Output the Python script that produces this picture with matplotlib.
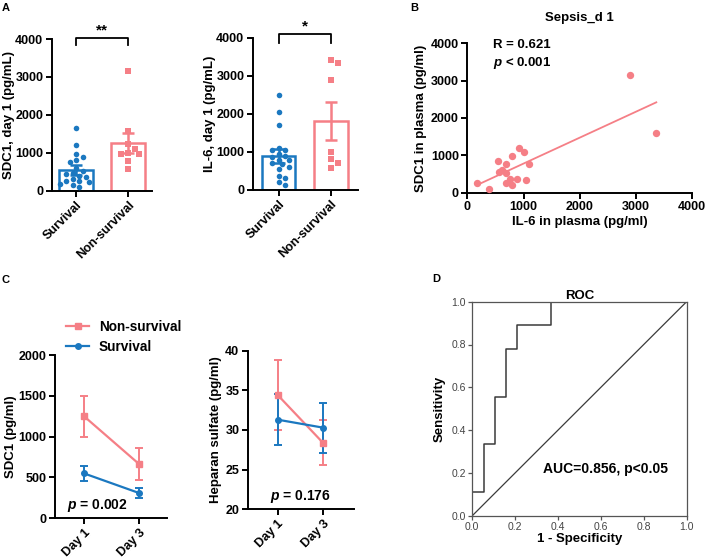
import numpy as np
import matplotlib
matplotlib.use('Agg')
import matplotlib.pyplot as plt
from matplotlib.lines import Line2D

plt.rcParams['font.family'] = ['Liberation Sans', 'DejaVu Sans']
plt.rcParams['font.weight'] = 'bold'
plt.rcParams['mathtext.fontset'] = 'custom'
plt.rcParams['mathtext.it'] = 'Liberation Sans:italic:bold'
plt.rcParams['mathtext.rm'] = 'Liberation Sans:bold'
plt.rcParams['mathtext.bf'] = 'Liberation Sans:bold'

BLUE = '#1b78c0'
PINK = '#f57f86'

# ---------------- data ----------------
groups = ['Survival', 'Non-survival']
sdc1_survival = [1650, 1200, 980, 900, 820, 760, 600, 520, 470, 430, 400, 360,
                 300, 260, 250, 220, 180, 150, 90]
sdc1_nonsurvival = [3150, 1570, 1220, 1100, 1000, 970, 960, 790, 570]
sdc1_bar_mean = [545, 1250]
sdc1_bar_sem = [130, 262]

il6_survival = [2500, 2060, 1700, 1100, 1050, 1050, 950, 900, 880, 800, 780,
                700, 680, 600, 550, 380, 310, 200, 140]
il6_nonsurvival = [3430, 3350, 2890, 1010, 810, 700, 590]
il6_bar_mean = [895, 1820]
il6_bar_sem = [180, 500]

corr_il6 = [178, 386, 546, 688, 789, 925, 1014, 1102, 560, 620, 688, 759, 688,
            800, 878, 1044, 2890, 3360]
corr_sdc1 = [268, 99, 849, 777, 983, 1206, 1099, 760, 560, 600, 519, 358, 251,
             206, 367, 340, 3150, 1590]

days = ['Day 1', 'Day 3']
sdc1_ns_mean = [1250, 665]
sdc1_ns_sem = [250, 195]
sdc1_s_mean = [550, 310]
sdc1_s_sem = [88, 65]
hs_ns_mean = [34.4, 28.4]
hs_ns_sem = [4.45, 2.8]
hs_s_mean = [31.3, 30.3]
hs_s_sem = [3.2, 3.15]

roc_fpr = [0, 0, 0.053, 0.053, 0.105, 0.105, 0.158, 0.158, 0.21, 0.21,
           0.368, 0.368, 1.0]
roc_tpr = [0, 0.111, 0.111, 0.333, 0.333, 0.556, 0.556, 0.778, 0.778, 0.889,
           0.889, 1.0, 1.0]

W, H = 706, 560
fig = plt.figure(figsize=(W / 100, H / 100), dpi=100)


def ax_px(x0, y0, x1, y1):
    return fig.add_axes([x0 / W, 1 - y1 / H, (x1 - x0) / W, (y1 - y0) / H])


TICK_FS = 9
LAB_FS = 9.5


def style(ax):
    for s in ['top', 'right']:
        ax.spines[s].set_visible(False)
    for s in ['left', 'bottom']:
        ax.spines[s].set_linewidth(1.4)
    ax.tick_params(width=1.4, length=4, labelsize=TICK_FS, pad=2)
    for lab in ax.get_xticklabels() + ax.get_yticklabels():
        lab.set_fontweight('bold')


def swarm_offsets(vals, ppu_y, ppu_x, diam):
    vals = np.asarray(vals, float)
    order = np.argsort(vals)[::-1]
    placed = []
    offs = np.zeros(len(vals))
    step = diam * 0.6
    for i in order:
        y = vals[i] * ppu_y
        for k in range(60):
            cands = [0.0] if k == 0 else [k * step, -k * step]
            ok_x = None
            for c in cands:
                if all((c - px) ** 2 + (y - py) ** 2 >= diam ** 2 for px, py in placed):
                    ok_x = c
                    break
            if ok_x is not None:
                placed.append((ok_x, y))
                offs[i] = ok_x / ppu_x
                break
    return offs


def bar_panel(ax, surv, nons, means, sems, ylabel, xlim, ppu_y, stars, bracket_y):
    x = np.arange(2)
    cols = [BLUE, PINK]
    ax.bar(x, means, width=0.64, facecolor='white', edgecolor=cols, linewidth=1.8, zorder=2)
    for i in range(2):
        ax.errorbar(x[i], means[i], yerr=sems[i], color=cols[i], capsize=4.5,
                    elinewidth=1.8, capthick=1.8, zorder=3)
    o1 = swarm_offsets(surv, ppu_y, 52, 5.4)
    ax.scatter(x[0] + o1, surv, s=16, marker='o', color=BLUE, zorder=4, linewidths=0)
    o2 = swarm_offsets(nons, ppu_y, 52, 5.8)
    ax.scatter(x[1] + o2, nons, s=17, marker='s', color=PINK, zorder=4, linewidths=0)
    ax.set_xlim(*xlim)
    ax.set_ylim(0, 4000)
    ax.set_yticks([0, 1000, 2000, 3000, 4000])
    ax.set_xticks(x)
    ax.set_xticklabels(groups, rotation=45, ha='right', rotation_mode='anchor')
    ax.set_ylabel(ylabel, fontsize=LAB_FS, fontweight='bold', labelpad=0.5)
    style(ax)
    by, leg = bracket_y
    ax.plot([0, 0, 1, 1], [leg, by, by, leg], color='black', lw=1.3, clip_on=False)
    ax.text(0.5, by + 20, stars, ha='center', va='bottom', fontsize=11, fontweight='bold')


axA1 = ax_px(51.7, 39, 152, 190.7)
bar_panel(axA1, sdc1_survival, sdc1_nonsurvival, sdc1_bar_mean, sdc1_bar_sem,
          'SDC1, day 1 (pg/mL)', (-0.47, 1.46), 151.7 / 4000, '**', (4030, 3850))

axA2 = ax_px(252.7, 38, 358, 190)
bar_panel(axA2, il6_survival, il6_nonsurvival, il6_bar_mean, il6_bar_sem,
          'IL-6, day 1 (pg/mL)', (-0.5, 1.52), 152 / 4000, '*', (4100, 3880))

# ---------------- B ----------------
axB = ax_px(467.3, 43.3, 692.3, 192.7)
axB.scatter(corr_il6, corr_sdc1, s=28, color=PINK, linewidths=0, zorder=3)
coef = np.polyfit(corr_il6, corr_sdc1, 1)
xl = np.array([min(corr_il6), max(corr_il6)])
axB.plot(xl, np.polyval(coef, xl), color=PINK, lw=1.3, zorder=2)
axB.set_xlim(0, 4000)
axB.set_ylim(0, 4000)
axB.set_xticks([0, 1000, 2000, 3000, 4000])
axB.set_yticks([0, 1000, 2000, 3000, 4000])
axB.set_xlabel('IL-6 in plasma (pg/ml)', fontsize=LAB_FS, fontweight='bold', labelpad=2)
axB.set_ylabel('SDC1 in plasma (pg/ml)', fontsize=LAB_FS, fontweight='bold', labelpad=3)
axB.set_title('Sepsis_d 1', fontsize=LAB_FS, fontweight='bold', pad=16)
style(axB)
axB.text(450, 3960, 'R = 0.621', fontsize=LAB_FS, fontweight='bold', va='center')
axB.text(450, 3460, r'$p$ < 0.001', fontsize=LAB_FS, fontweight='bold', va='center')

# ---------------- C ----------------
axC1 = ax_px(55, 355, 167, 518.3)
xd = np.arange(2)
axC1.errorbar(xd, sdc1_ns_mean, yerr=sdc1_ns_sem, color=PINK, marker='s', ms=4,
              lw=1.6, capsize=3, capthick=1.4, elinewidth=1.4)
axC1.errorbar(xd, sdc1_s_mean, yerr=sdc1_s_sem, color=BLUE, marker='o', ms=4,
              lw=1.6, capsize=3, capthick=1.4, elinewidth=1.4)
axC1.set_xlim(-0.527, 1.509)
axC1.set_ylim(0, 2000)
axC1.set_yticks([0, 500, 1000, 1500, 2000])
axC1.set_xticks(xd)
axC1.set_xticklabels(days, rotation=45, ha='right', rotation_mode='anchor')
axC1.set_ylabel('SDC1 (pg/ml)', fontsize=LAB_FS, fontweight='bold', labelpad=1)
style(axC1)
axC1.text(-0.3, 160, r'$p$ = 0.002', fontsize=LAB_FS + 0.5, fontweight='bold', va='center')
handles = [Line2D([], [], color=PINK, marker='s', ms=4, lw=1.6),
           Line2D([], [], color=BLUE, marker='o', ms=4, lw=1.6)]
leg = axC1.legend(handles, ['Non-survival', 'Survival'], loc='upper left',
                  bbox_to_anchor=(66 / W, 1 - 320 / H),
                  bbox_transform=fig.transFigure, frameon=False,
                  prop={'size': 9.8, 'weight': 'bold'}, handlelength=1.7,
                  handletextpad=0.7, labelspacing=0.45, borderpad=0, borderaxespad=0)

axC2 = ax_px(247.7, 350.7, 354, 509.3)
axC2.errorbar(xd, hs_ns_mean, yerr=hs_ns_sem, color=PINK, marker='s', ms=4,
              lw=1.6, capsize=3, capthick=1.4, elinewidth=1.4)
axC2.errorbar(xd, hs_s_mean, yerr=hs_s_sem, color=BLUE, marker='o', ms=4,
              lw=1.6, capsize=3, capthick=1.4, elinewidth=1.4)
axC2.set_xlim(-0.667, 1.69)
axC2.set_ylim(20, 40)
axC2.set_yticks([20, 25, 30, 35, 40])
axC2.set_xticks(xd)
axC2.set_xticklabels(days, rotation=45, ha='right', rotation_mode='anchor')
axC2.set_ylabel('Heparan sulfate (pg/ml)', fontsize=LAB_FS, fontweight='bold', labelpad=2)
style(axC2)
axC2.text(0.5, 21.6, r'$p$ = 0.176', fontsize=LAB_FS + 0.5, fontweight='bold',
          va='center', ha='center')

# ---------------- D ----------------
axD = ax_px(472.3, 301.7, 686.6, 515.7)
GREY = '#3a3a3a'
axD.plot(roc_fpr, roc_tpr, color=GREY, lw=1.1)
axD.plot([0, 1], [0, 1], color=GREY, lw=0.9)
axD.set_xlim(0, 1)
axD.set_ylim(0, 1)
ticks = [0.0, 0.2, 0.4, 0.6, 0.8, 1.0]
axD.set_xticks(ticks)
axD.set_yticks(ticks)
axD.set_xticklabels([f'{t:.1f}' for t in ticks])
axD.set_yticklabels([f'{t:.1f}' for t in ticks])
for s in axD.spines.values():
    s.set_color('#555555')
    s.set_linewidth(0.9)
axD.tick_params(labelsize=7.5, length=3, width=0.9, color='#555555',
                labelcolor='#444444', pad=1.5)
for lab in axD.get_xticklabels() + axD.get_yticklabels():
    lab.set_fontweight('normal')
axD.set_xlabel('1 - Specificity', fontsize=LAB_FS, fontweight='bold', labelpad=1)
axD.set_ylabel('Sensitivity', fontsize=LAB_FS, fontweight='bold', labelpad=4)
axD.set_title('ROC', fontsize=LAB_FS, fontweight='bold', pad=2)
axD.text(0.33, 0.22, 'AUC=0.856, p<0.05', fontsize=10, fontweight='bold', va='center')

# panel letters
for letter, (px, py) in {'A': (2, 8), 'B': (410, 8), 'C': (2, 280), 'D': (432, 279)}.items():
    fig.text(px / W, 1 - py / H, letter, fontsize=8, fontweight='bold', va='center', ha='left')

fig.savefig('out.png', dpi=100)
